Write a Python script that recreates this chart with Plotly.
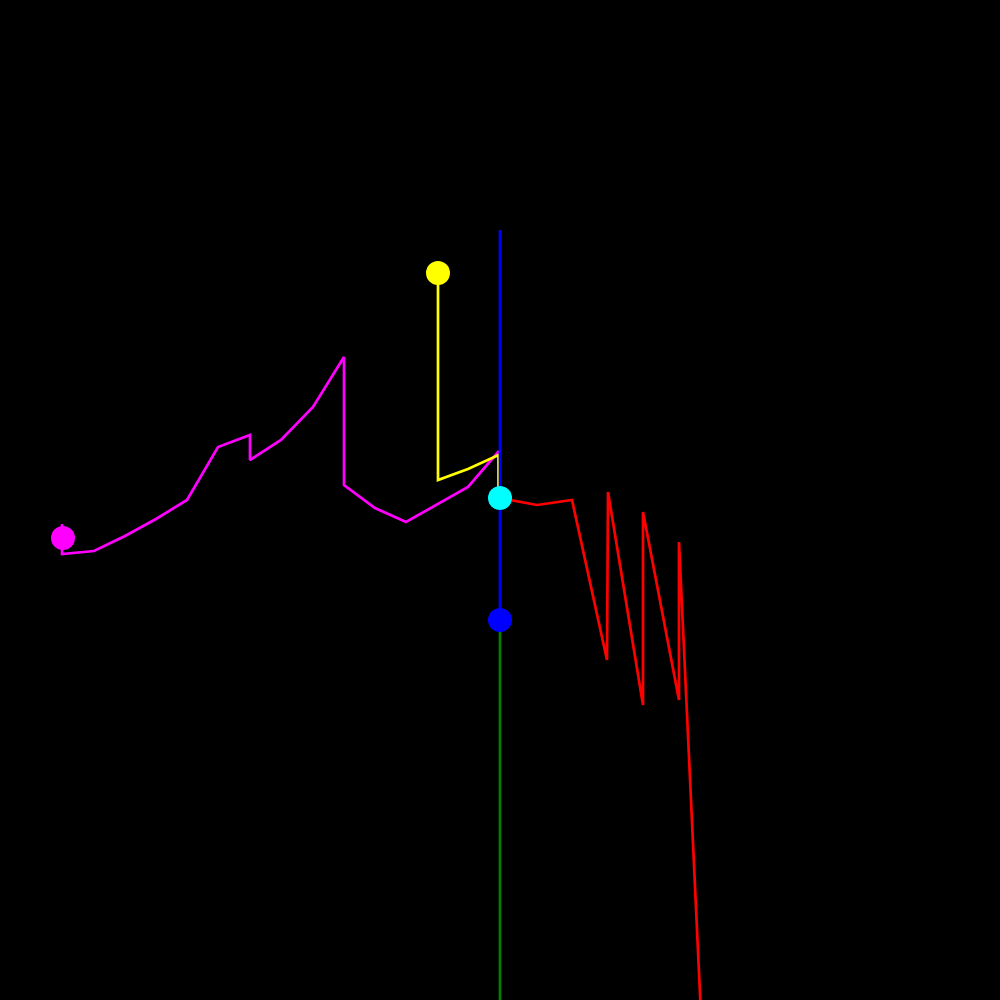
import plotly.graph_objects as go

# Coordinates in a centred frame (origin at chart centre, y up)
green_x = [0, 0]
green_y = [-120, -560]

blue_x = [0, 0]
blue_y = [270, -120]

yellow_x = [-1.5, -1.5, -32, -62, -62]
yellow_y = [2, 45, 31, 20, 227]

magenta_x = [-1, -32, -94, -125, -156, -156, -187, -219, -250, -250, -282, -313, -344, -375, -406, -438, -438]
magenta_y = [49, 13, -22, -8, 15, 143, 93, 60, 40, 65, 53, 0, -19, -36, -51, -54, -24]

red_x = [0, 37, 72, 107, 108, 143, 143, 179, 179, 204]
red_y = [2, -5, 0, -160, 8, -205, -12, -200, -42, -580]

markers = [
    ("#ffff00", -62, 227),
    ("#ff00ff", -437, -38),
    ("#0000ff", 0, -120),
    ("#00ffff", 0, 2),
]

fig = go.Figure()
lw = 2.7
fig.add_trace(go.Scatter(x=green_x, y=green_y, mode="lines", line=dict(color="#008000", width=lw)))
fig.add_trace(go.Scatter(x=magenta_x, y=magenta_y, mode="lines", line=dict(color="#ff00ff", width=lw)))
fig.add_trace(go.Scatter(x=yellow_x, y=yellow_y, mode="lines", line=dict(color="#ffff00", width=lw)))
fig.add_trace(go.Scatter(x=red_x, y=red_y, mode="lines", line=dict(color="#ff0000", width=lw)))
fig.add_trace(go.Scatter(x=blue_x, y=blue_y, mode="lines", line=dict(color="#0000ff", width=lw)))
for c, mx, my in markers:
    fig.add_trace(go.Scatter(x=[mx], y=[my], mode="markers",
                             marker=dict(color=c, size=24, line=dict(width=0))))

fig.update_layout(
    width=1000, height=1000,
    margin=dict(l=0, r=0, t=0, b=0),
    paper_bgcolor="#000000", plot_bgcolor="#000000",
    showlegend=False,
    xaxis=dict(range=[-500, 500], visible=False, showgrid=False, zeroline=False),
    yaxis=dict(range=[-500, 500], visible=False, showgrid=False, zeroline=False),
)
fig.write_html("out.html")
